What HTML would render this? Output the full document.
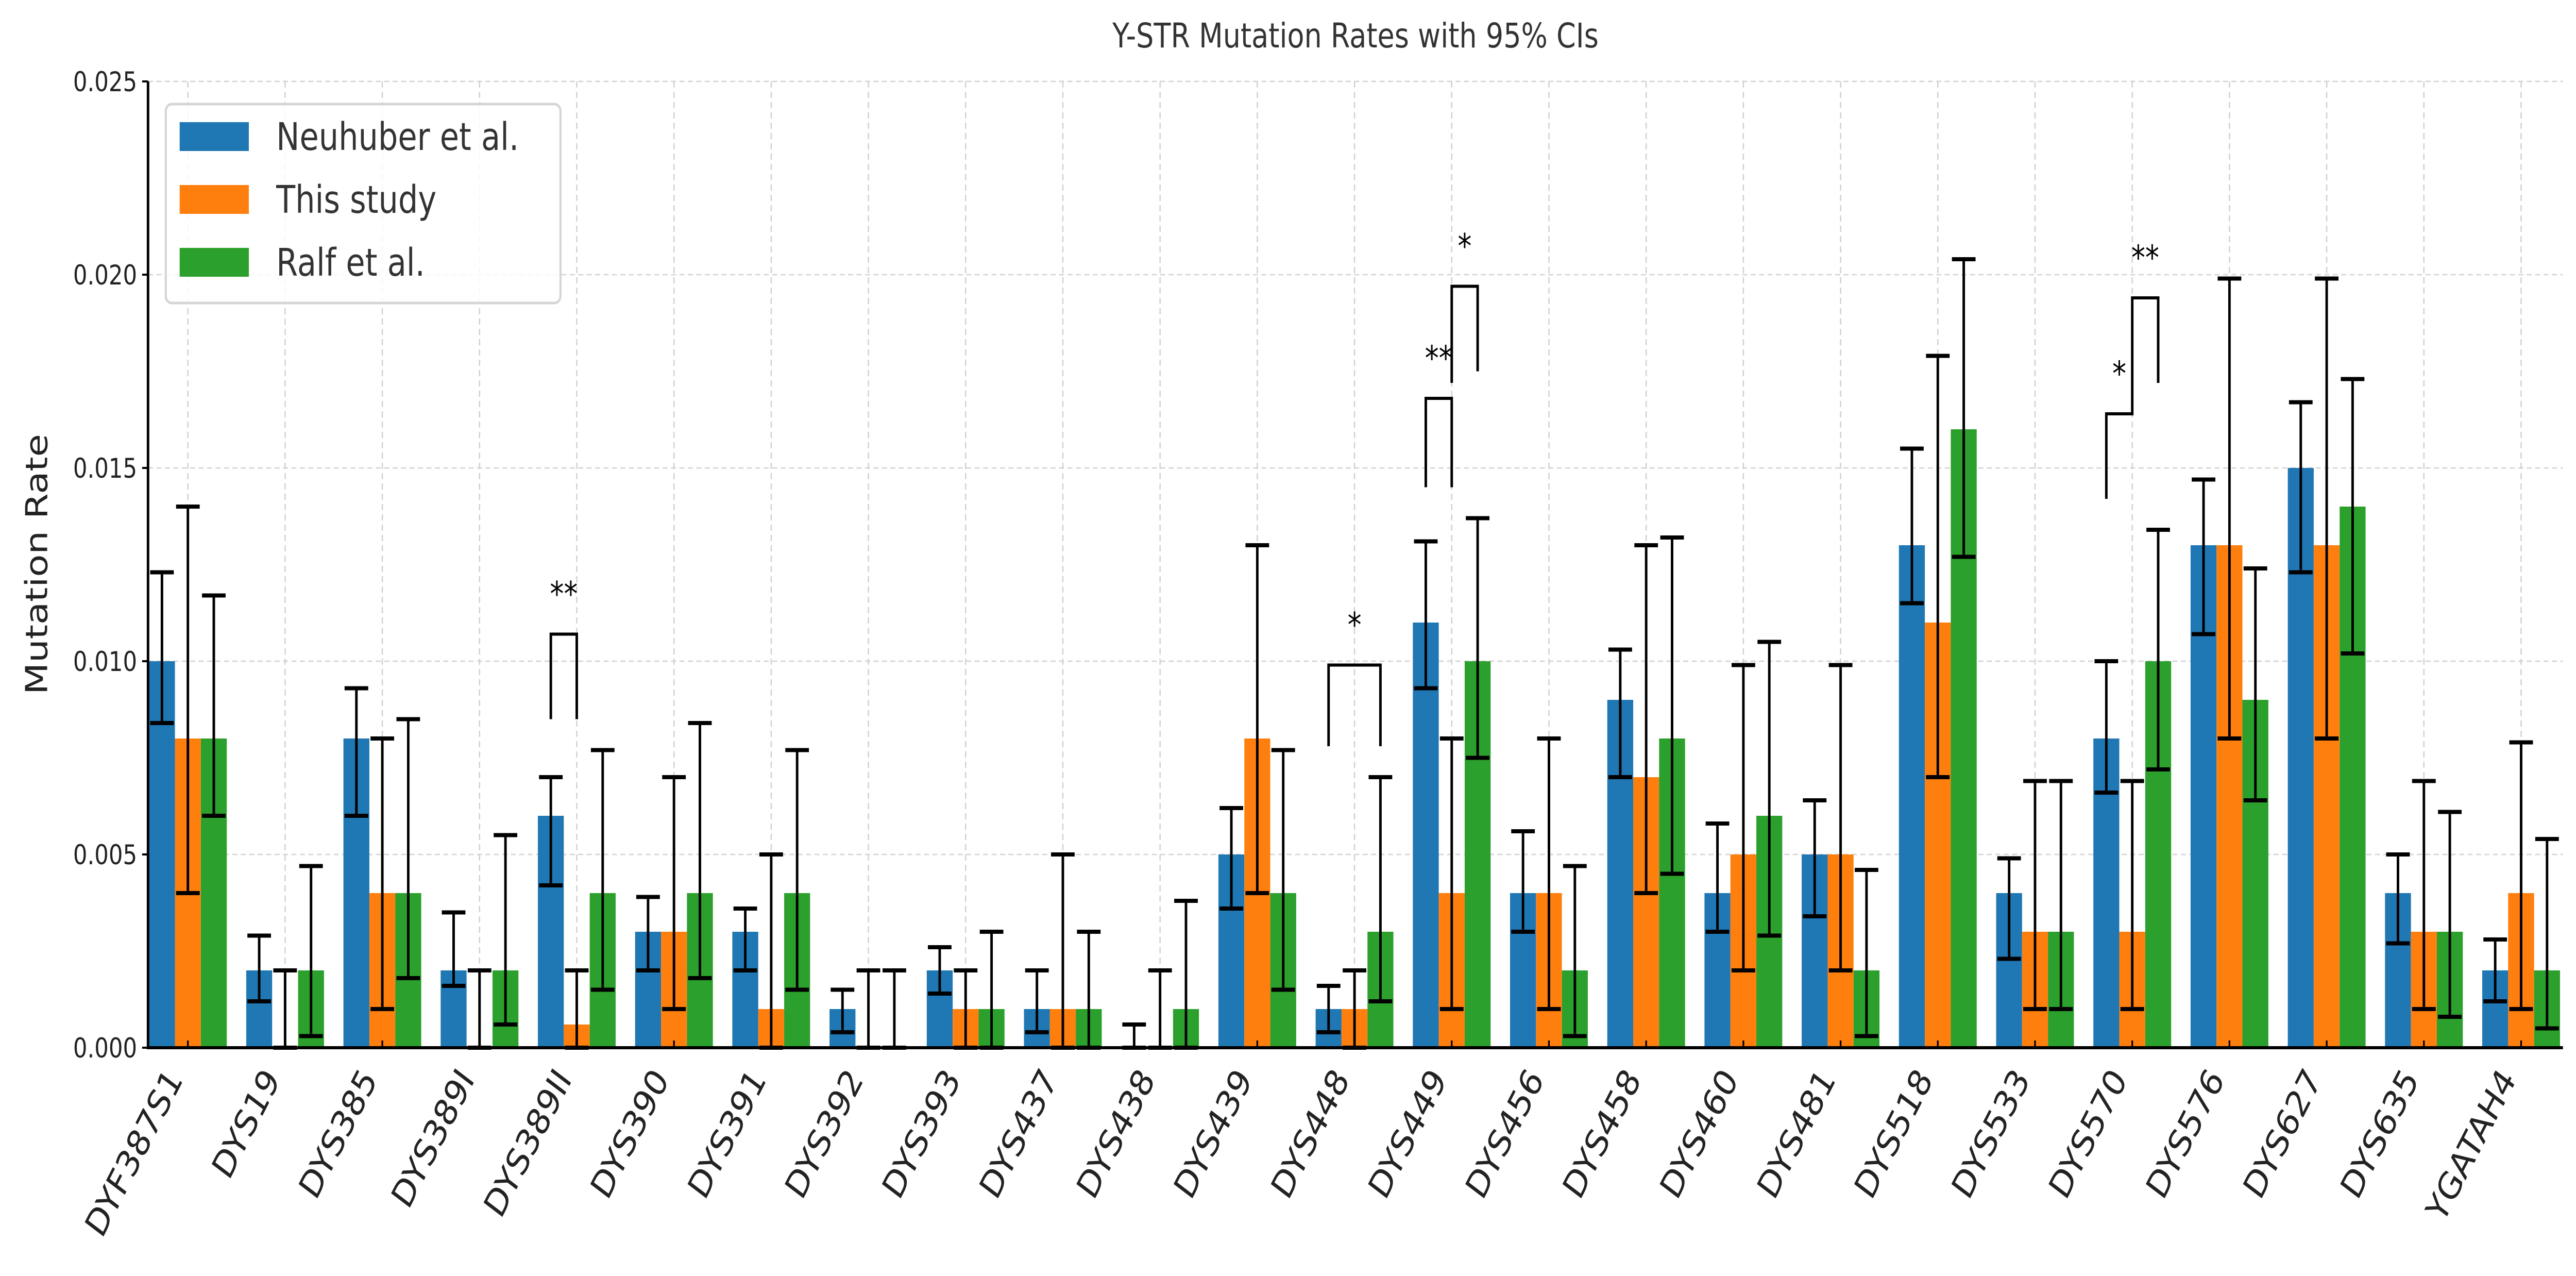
<!DOCTYPE html>
<html><head><meta charset="utf-8"><style>
html,body{margin:0;padding:0;background:#fff;width:100%;height:100%;overflow:hidden;}
svg{display:block;width:100vw;height:100vh;font-family:"DejaVu Sans","Liberation Sans",sans-serif;}
</style></head><body>
<svg id="chart" viewBox="0 0 6108 2476" preserveAspectRatio="none" xmlns="http://www.w3.org/2000/svg"></svg>
<script>
const categories=["DYF387S1","DYS19","DYS385","DYS389I","DYS389II","DYS390","DYS391","DYS392","DYS393","DYS437","DYS438","DYS439","DYS448","DYS449","DYS456","DYS458","DYS460","DYS481","DYS518","DYS533","DYS570","DYS576","DYS627","DYS635","YGATAH4"];
const neuhuber=[0.010,0.002,0.008,0.002,0.006,0.003,0.003,0.001,0.002,0.001,0,0.005,0.001,0.011,0.004,0.009,0.004,0.005,0.013,0.004,0.008,0.013,0.015,0.004,0.002];
const neuhuberLo=[0.0084,0.0012,0.006,0.0016,0.0042,0.002,0.002,0.0004,0.0014,0.0004,0,0.0036,0.0004,0.0093,0.003,0.007,0.003,0.0034,0.0115,0.0023,0.0066,0.0107,0.0123,0.0027,0.0012];
const neuhuberHi=[0.0123,0.0029,0.0093,0.0035,0.007,0.0039,0.0036,0.0015,0.0026,0.002,0.0006,0.0062,0.0016,0.0131,0.0056,0.0103,0.0058,0.0064,0.0155,0.0049,0.010,0.0147,0.0167,0.005,0.0028];
const thisStudy=[0.008,0,0.004,0,0.0006,0.003,0.001,0,0.001,0.001,0,0.008,0.001,0.004,0.004,0.007,0.005,0.005,0.011,0.003,0.003,0.013,0.013,0.003,0.004];
const thisLo=[0.004,0,0.001,0,0,0.001,0,0,0,0,0,0.004,0,0.001,0.001,0.004,0.002,0.002,0.007,0.001,0.001,0.008,0.008,0.001,0.001];
const thisHi=[0.014,0.002,0.008,0.002,0.002,0.007,0.005,0.002,0.002,0.005,0.002,0.013,0.002,0.008,0.008,0.013,0.0099,0.0099,0.0179,0.0069,0.0069,0.0199,0.0199,0.0069,0.0079];
const ralf=[0.008,0.002,0.004,0.002,0.004,0.004,0.004,0,0.001,0.001,0.001,0.004,0.003,0.010,0.002,0.008,0.006,0.002,0.016,0.003,0.010,0.009,0.014,0.003,0.002];
const ralfLo=[0.006,0.0003,0.0018,0.0006,0.0015,0.0018,0.0015,0,0,0,0,0.0015,0.0012,0.0075,0.0003,0.0045,0.0029,0.0003,0.0127,0.001,0.0072,0.0064,0.0102,0.0008,0.0005];
const ralfHi=[0.0117,0.0047,0.0085,0.0055,0.0077,0.0084,0.0077,0.002,0.003,0.003,0.0038,0.0077,0.007,0.0137,0.0047,0.0132,0.0105,0.0046,0.0204,0.0069,0.0134,0.0124,0.0173,0.0061,0.0054];
const yTicks=[0,0.005,0.010,0.015,0.020,0.025];
const yTickLabels=["0.000","0.005","0.010","0.015","0.020","0.025"];
const sigCat=[4,12,13,13,20,20];
const sigA=[0,0,0,1,0,1];
const sigB=[1,2,1,2,1,2];
const sigTop=[0.0107,0.0099,0.0168,0.0197,0.0164,0.0194];
const sigLegA=[0.0085,0.0078,0.0145,0.0172,0.0142,0.0171];
const sigLegB=[0.0085,0.0078,0.0145,0.0175,0.0171,0.0172];
const sigLabel=["**","*","**","*","*","**"];

const svg=document.getElementById('chart');
const NS='http://www.w3.org/2000/svg';
function mk(tag,attrs,parent){const e=document.createElementNS(NS,tag);for(const k in attrs)e.setAttribute(k,attrs[k]);(parent||svg).appendChild(e);return e;}
const X0=351,X1=6077,Y0=2033,Y1=158;
const xMin=-0.41,xMax=24.43;
function xs(v){return X0+(v-xMin)/(xMax-xMin)*(X1-X0);}
function ys(v){return Y0-(v/0.025)*(Y0-Y1);}
const step=xs(1)-xs(0);
const bw=step*0.8/3;
const colors=["#1f77b4","#ff7f0e","#2ca02c"];
const series=[neuhuber,thisStudy,ralf];
const los=[neuhuberLo,thisLo,ralfLo];
const his=[neuhuberHi,thisHi,ralfHi];
const names=["Neuhuber et al.","This study","Ralf et al."];
function off(s){return (s-1)*bw;}

const grid=mk('g',{});


yTicks.forEach(t=>{const l=mk('line',{x1:X0,x2:X1,y1:ys(t),y2:ys(t),stroke:'#d8d8d8','stroke-width':3,'stroke-dasharray':'12,8'},grid);

});
categories.forEach((c,i)=>{const l=mk('line',{x1:xs(i),x2:xs(i),y1:Y1,y2:Y0,stroke:'#d0d0d0','stroke-width':3,'stroke-dasharray':'12,8'},grid);

});

series.forEach((arr,s)=>{
  const g=mk('g',{});
  
  
  arr.forEach((v,i)=>{
    const cx=xs(i)+off(s);
    const r=mk('rect',{x:cx-bw/2,y:ys(v),width:bw,height:Y0-ys(v),fill:colors[s]},g);
    
    
  });
});
series.forEach((arr,s)=>{
  arr.forEach((v,i)=>{
    const cx=xs(i)+off(s);
    const g=mk('g',{stroke:'#000','stroke-width':6});
    
    
    mk('line',{x1:cx,x2:cx,y1:ys(los[s][i]),y2:ys(his[s][i])},g);
    mk('line',{x1:cx-28,x2:cx+28,y1:ys(los[s][i]),y2:ys(los[s][i]),'stroke-width':8},g);
    mk('line',{x1:cx-28,x2:cx+28,y1:ys(his[s][i]),y2:ys(his[s][i]),'stroke-width':8},g);
  });
});
sigCat.forEach((c,k)=>{
  const xa=xs(c)+off(sigA[k]),xb=xs(c)+off(sigB[k]);
  const g=mk('g',{});
  
  
  mk('polyline',{points:`${xa},${ys(sigLegA[k])} ${xa},${ys(sigTop[k])} ${xb},${ys(sigTop[k])} ${xb},${ys(sigLegB[k])}`,fill:'none',stroke:'#000','stroke-width':6},g);
  const t=mk('text',{x:(xa+xb)/2,y:ys(sigTop[k])-55,'text-anchor':'middle','font-size':66,fill:'#000'},g);
  t.textContent=sigLabel[k];
});
const ax=mk('g',{stroke:'#000','stroke-width':6});


mk('line',{x1:X0,x2:X0,y1:Y1,y2:Y0+3},ax);
mk('line',{x1:X0-3,x2:X1,y1:Y0,y2:Y0},ax);
yTicks.forEach((t,i)=>{
  mk('line',{x1:X0-14,x2:X0,y1:ys(t),y2:ys(t),'stroke-width':4},ax);
  const tx=mk('text',{x:X0-26,y:ys(t)+19,'text-anchor':'end','font-size':53,fill:'#222',stroke:'none'});
  
  
  tx.textContent=yTickLabels[i];
});
categories.forEach((c,i)=>{
  mk('line',{x1:xs(i),x2:xs(i),y1:Y0,y2:Y0-14,'stroke-width':4},ax);
  const x=xs(i)-10,y=Y0+62;
  const tx=mk('text',{x:x,y:y,'text-anchor':'end','font-size':72,fill:'#222',transform:`rotate(-58 ${x} ${y})`});
  
  
  tx.textContent=c;
});
const title=mk('text',{x:3214,y:92,'text-anchor':'middle','font-size':66,fill:'#333'});


title.textContent='Y-STR Mutation Rates with 95% CIs';
const yl=mk('text',{x:0,y:0,'text-anchor':'middle','font-size':72,fill:'#222',transform:'translate(112 1095) rotate(-90)'});


yl.textContent='Mutation Rate';
const lg=mk('g',{});


mk('rect',{x:393,y:202,width:936,height:386,rx:14,fill:'#fff','fill-opacity':0.85,stroke:'#d5d5d5','stroke-width':5},lg);
names.forEach((n,s)=>{
  const cy=265+s*122;
  const e=mk('g',{},lg);
  
  
  mk('rect',{x:426,y:cy-28,width:164,height:56,fill:colors[s]},e);
  const t=mk('text',{x:655,y:cy+26,'font-size':74,fill:'#333'},e);
  t.textContent=n;
});
</script>
</body></html>
